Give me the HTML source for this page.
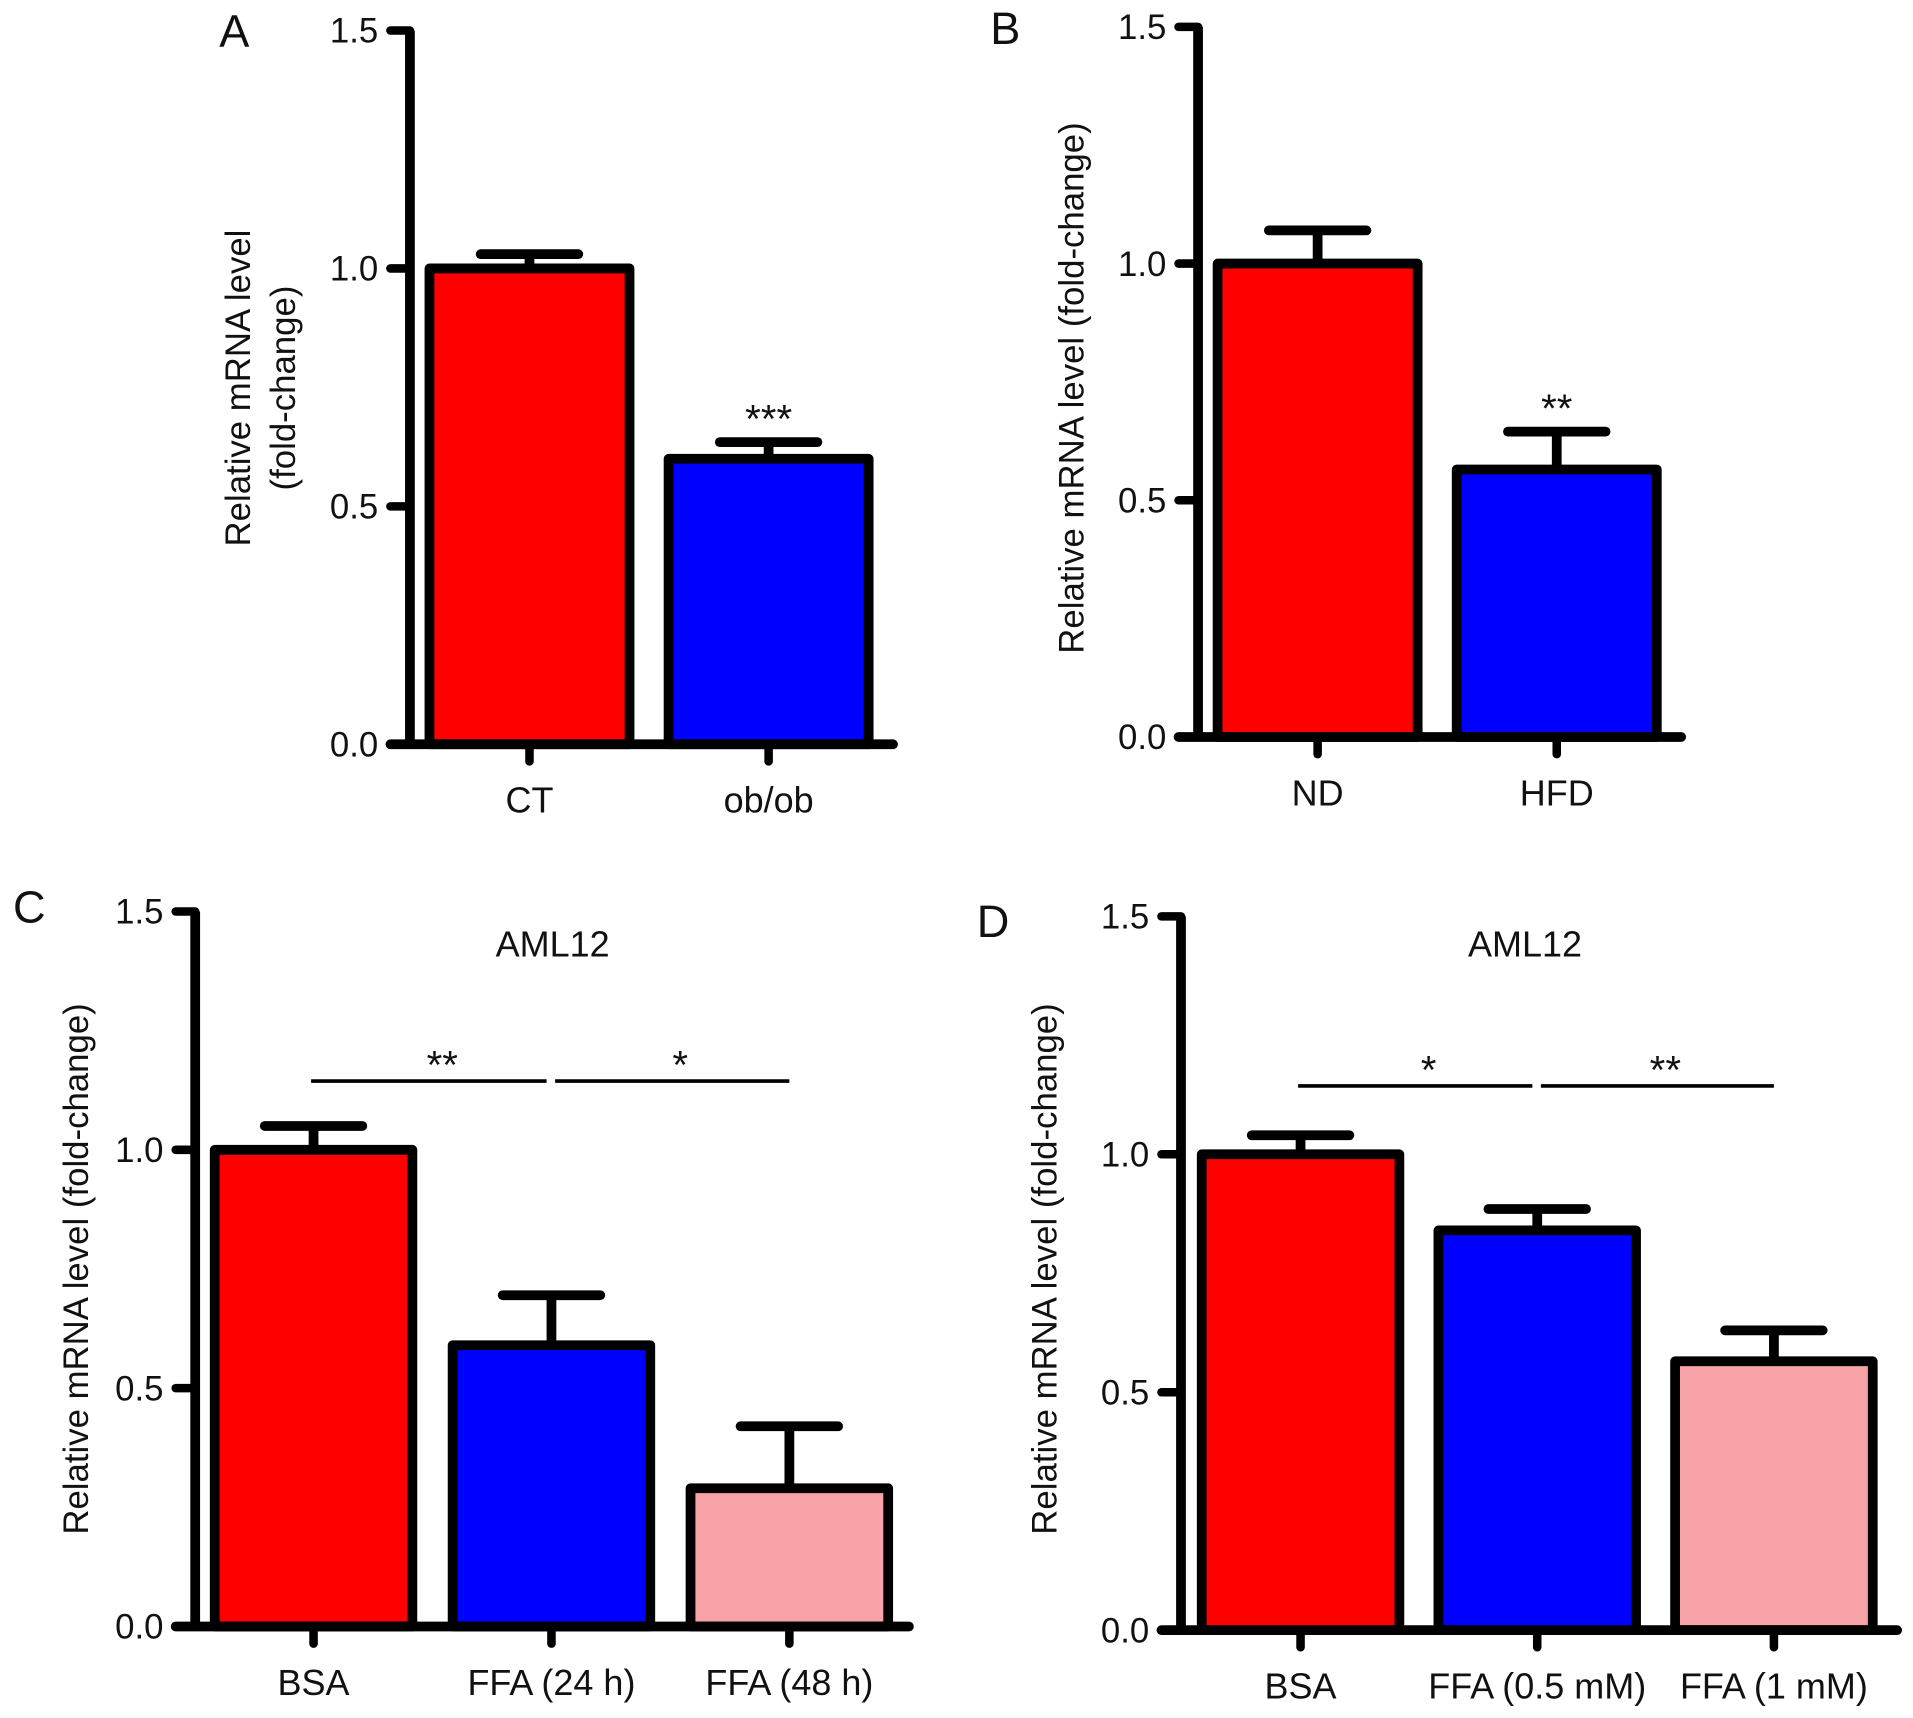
<!DOCTYPE html>
<html><head><meta charset="utf-8"><style>
html,body{margin:0;padding:0;background:#fff}
svg{display:block}
text{font-family:"Liberation Sans",Arial,sans-serif;fill:#111}
</style></head><body>
<svg id="fig" width="1913" height="1718" viewBox="0 0 1568 1408" preserveAspectRatio="none" xmlns="http://www.w3.org/2000/svg"></svg>
<script>
const catsA=["CT","ob/ob"], valsA=[1.0,0.60], errA=[0.03,0.035];
const catsB=["ND","HFD"], valsB=[1.0,0.565], errB=[0.07,0.08];
const catsC=["BSA","FFA (24 h)","FFA (48 h)"], valsC=[1.0,0.59,0.29], errC=[0.05,0.105,0.13];
const catsD=["BSA","FFA (0.5 mM)","FFA (1 mM)"], valsD=[1.0,0.84,0.565], errD=[0.04,0.045,0.065];
const yTicks=[0.0,0.5,1.0,1.5];
const yTickLabels=["0.0","0.5","1.0","1.5"];
const colors=["#ff0000","#0000ff","#f8a3a8"];
const sigA=["***"], sigB=["**"];
const sigC=["**","*"], sigD=["*","**"];

const svg=document.getElementById('fig');
const NS="http://www.w3.org/2000/svg";
function el(tag,attrs,parent){const e=document.createElementNS(NS,tag);for(const k in attrs)e.setAttribute(k,attrs[k]);(parent||svg).appendChild(e);return e;}
function txt(s,x,y,size,anchor,parent,rot){const t=el('text',{x:x,y:y,'font-size':size,'text-anchor':anchor||'middle'},parent);if(rot)t.setAttribute('transform',`rotate(-90 ${x} ${y})`);t.textContent=s;return t;}

function panel(p){
  const g=el('g',{});
  
  
  const y=v=>p.y0-(p.y0-p.y15)*v/1.5;
  const xc=i=>p.c0+i*p.step;
  const L=el('text',{x:p.lx,y:p.ly,'font-size':37,'text-anchor':'middle'},g);L.textContent=p.letter;
  
  
  p.vals.forEach((v,i)=>{
    const x=xc(i), hw=p.bw/2;
    const top=y(v), et=y(v+p.err[i]);
    const eb=el('line',{x1:x,y1:top,x2:x,y2:et,stroke:'#000','stroke-width':8},g);
    
    
    const cap=el('line',{x1:x-40,y1:et,x2:x+40,y2:et,stroke:'#000','stroke-width':8,'stroke-linecap':'round'},g);
    
    
    const r=el('rect',{x:x-hw,y:top,width:p.bw,height:p.y0-top,fill:colors[i],stroke:'#000','stroke-width':8,'stroke-linejoin':'round'},g);
    
    
    const tk=el('line',{x1:x,y1:p.y0,x2:x,y2:p.y0+14,stroke:'#000','stroke-width':7,'stroke-linecap':'round'},g);
    
    
    const cl=txt(p.cats[i],x,p.y0+56,29.5,'middle',g);
    
    
  });
  const ya=el('line',{x1:p.ax,y1:p.y15,x2:p.ax,y2:p.y0,stroke:'#000','stroke-width':8},g);
  
  
  const xa=el('line',{x1:p.ax-16,y1:p.y0,x2:p.xend,y2:p.y0,stroke:'#000','stroke-width':8,'stroke-linecap':'round'},g);
  
  
  yTicks.forEach((t,i)=>{
    const tl=el('line',{x1:p.ax-16,y1:y(t),x2:p.ax,y2:y(t),stroke:'#000','stroke-width':7,'stroke-linecap':'round'},g);
    
    
    const lb=txt(yTickLabels[i],p.ax-26,y(t)+10,28.5,'end',g);
    
    
  });
  p.ylab.forEach((s,i)=>{
    const t=txt(s,p.ylx+i*37,p.yly,28.5,'middle',g,true);
    
    
  });
  if(p.title){const t=txt(p.title,p.titleX,p.titleY,29.5,'middle',g);
    
    }
  if(p.sigTop){p.sigTop.forEach((s,i)=>{const t=txt(s,xc(i+1),y(p.vals[i+1]+p.err[i+1])-8,33,'middle',g);
    
    });}
  if(p.sigPair){p.sigPair.forEach((s,i)=>{
    const x1=xc(i)-2+(i?5:0), x2=xc(i+1)-(i?0:4);
    const ln=el('line',{x1:x1,y1:p.sigY,x2:x2,y2:p.sigY,stroke:'#000','stroke-width':3},g);
    
    
    const t=txt(s,(xc(i)+xc(i+1))/2+8,p.sigY-2,33,'middle',g);
    
    
  });}
}
panel({letter:'A',lx:192,ly:38,ax:336,y0:610,y15:25,xend:732,c0:434,step:196,bw:164,cats:catsA,vals:valsA,err:errA,ylab:["Relative mRNA level","(fold-change)"],ylx:205,yly:318,sigTop:sigA});
panel({letter:'B',lx:824,ly:36,ax:982,y0:604,y15:22,xend:1378,c0:1080,step:196,bw:164,cats:catsB,vals:valsB,err:errB,ylab:["Relative mRNA level (fold-change)"],ylx:888,yly:318,sigTop:sigB});
panel({letter:'C',lx:24,ly:756,ax:160,y0:1333,y15:747,xend:745,c0:257,step:195,bw:162,cats:catsC,vals:valsC,err:errC,ylab:["Relative mRNA level (fold-change)"],ylx:72,yly:1040,title:'AML12',titleX:453,titleY:784,sigPair:sigC,sigY:886});
panel({letter:'D',lx:814,ly:768,ax:968,y0:1336,y15:751,xend:1555,c0:1066,step:194,bw:162,cats:catsD,vals:valsD,err:errD,ylab:["Relative mRNA level (fold-change)"],ylx:866,yly:1040,title:'AML12',titleX:1250,titleY:784,sigPair:sigD,sigY:890});
</script>
</body></html>
